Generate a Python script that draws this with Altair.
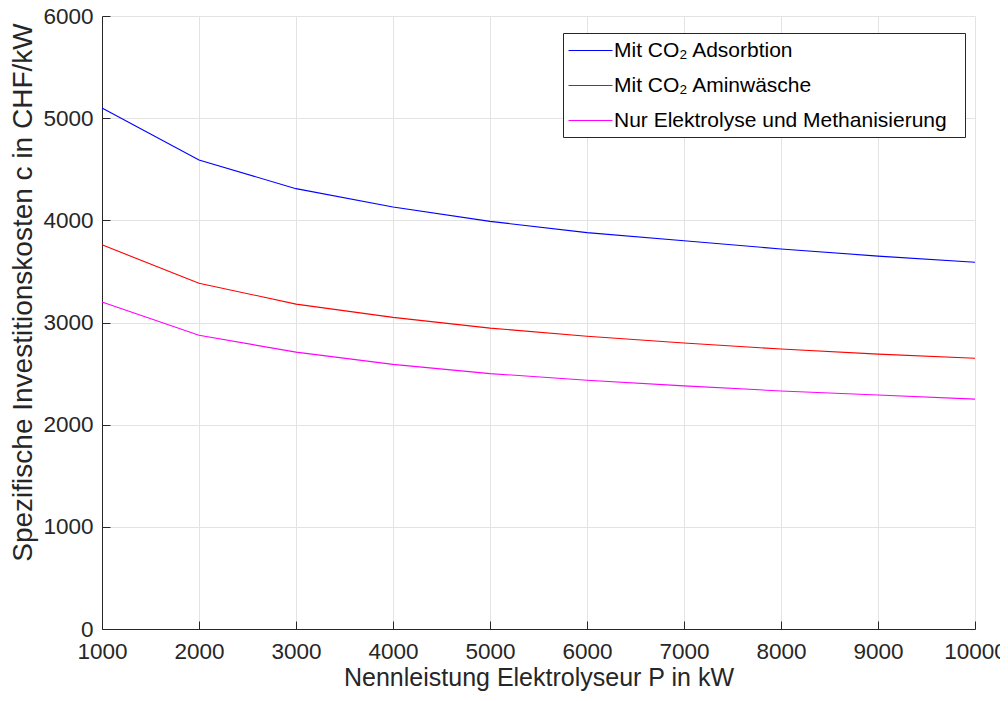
import altair as alt
import pandas as pd

leistung = [1000, 2000, 3000, 4000, 5000, 6000, 7000, 8000, 9000, 10000]
adsorbtion = [5100, 4590, 4310, 4130, 3990, 3880, 3800, 3720, 3650, 3590]
aminwaesche = [3760, 3385, 3180, 3050, 2945, 2865, 2800, 2740, 2690, 2650]
nur_elektrolyse = [3200, 2875, 2710, 2590, 2500, 2435, 2380, 2330, 2290, 2250]
y_ticks = [0, 1000, 2000, 3000, 4000, 5000, 6000]

series_names = ["Mit CO\u2082 Adsorbtion", "Mit CO\u2082 Aminwäsche", "Nur Elektrolyse und Methanisierung"]
series_colors = ["#0000ff", "#ff0000", "#ff00ff"]

rows = []
for name, vals in zip(series_names, [adsorbtion, aminwaesche, nur_elektrolyse]):
    for p, c in zip(leistung, vals):
        rows.append({"P": p, "c": c, "Serie": name})
df = pd.DataFrame(rows)

font = "Liberation Sans"
W, H = 873, 613
xscale = alt.Scale(domain=[1000, 10000], nice=False)
yscale = alt.Scale(domain=[0, 6000], nice=False)

lines = alt.Chart(df).mark_line(strokeWidth=1.1).encode(
    x=alt.X("P:Q", scale=xscale,
            axis=alt.Axis(title="Nennleistung Elektrolyseur P in kW",
                          values=leistung, format="d", titleFontSize=25,
                          labelPadding=11, titlePadding=3, tickSize=0)),
    y=alt.Y("c:Q", scale=yscale,
            axis=alt.Axis(title="Spezifische Investitionskosten c in CHF/kW",
                          values=y_ticks, format="d", titleFontSize=28,
                          labelPadding=9, titlePadding=5, titleY=276, tickSize=0)),
    color=alt.Color("Serie:N",
                    scale=alt.Scale(domain=series_names, range=series_colors),
                    legend=alt.Legend(title=None, orient="none", legendX=461, legendY=17,
                                      symbolType="M-2,0H2", symbolSize=484, symbolStrokeWidth=1,
                                      symbolOffset=10, labelOffset=12,
                                      labelFontSize=21, labelFont=font, labelColor="#000000",
                                      labelExpr="datum.label + '\u00a0\u00a0\u200b'",
                                      rowPadding=13,
                                      strokeColor="#262626", fillColor="#ffffff",
                                      padding=6, labelLimit=500)),
    detail="Serie:N",
)

inner_ticks = alt.Chart(df).mark_line(opacity=0).encode(
    x=alt.X("P:Q", scale=xscale,
            axis=alt.Axis(orient="top", offset=-H, values=leistung, labels=False,
                          domain=False, grid=False, ticks=True, tickSize=8, title=None)),
    y=alt.Y("c:Q", scale=yscale,
            axis=alt.Axis(orient="right", offset=-W, values=y_ticks, labels=False,
                          domain=False, grid=False, ticks=True, tickSize=8, title=None)),
    detail="Serie:N",
)

chart = alt.layer(lines, inner_ticks).resolve_axis(
    x="independent", y="independent"
).properties(
    width=W, height=H,
    autosize=alt.AutoSizeParams(type="none"),
    padding={"left": 94, "top": 8, "right": 25, "bottom": 64},
).configure_axis(
    labelFont=font, titleFont=font, labelFontSize=22.5,
    labelColor="#262626", titleColor="#262626", titleFontWeight="normal",
    domainColor="#262626", tickColor="#262626",
    gridColor="#e3e3e3", labelFlush=False,
).configure_view(stroke=None)

chart.save("out.html", embed_options={"renderer": "svg", "actions": False})
